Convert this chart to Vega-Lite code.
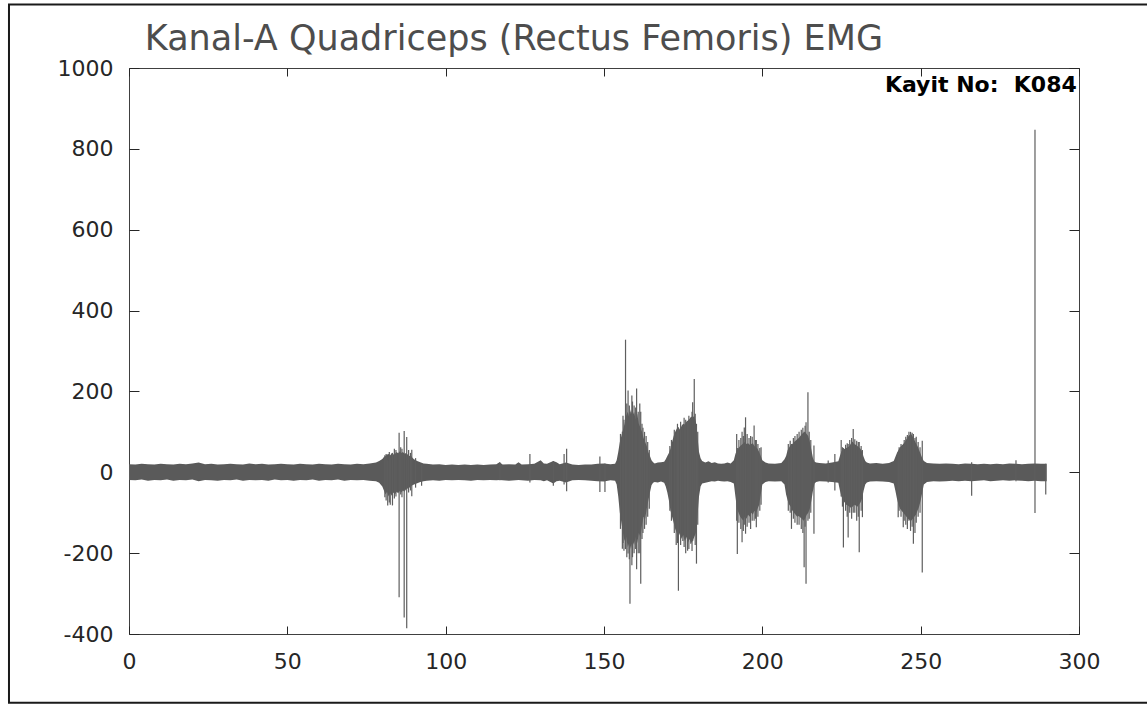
{
  "$schema": "https://vega.github.io/schema/vega-lite/v6.json",
  "autosize": "none",
  "width": 950,
  "height": 566,
  "padding": {"left": 129, "top": 68, "right": 68, "bottom": 70},
  "background": "white",
  "config": {
    "view": {"stroke": "#404040", "strokeWidth": 1},
    "axis": {
      "grid": false,
      "domain": false,
      "title": null,
      "labelFont": "DejaVu Sans",
      "labelFontSize": 22,
      "labelColor": "#262626",
      "tickColor": "#262626",
      "tickWidth": 1,
      "labelFlush": false,
      "labelOverlap": false
    }
  },
  "datasets": {
    "env": [
      {"t": 0, "lo": -19, "hi": 20}, {"t": 2, "lo": -20, "hi": 19}, {"t": 4, "lo": -18, "hi": 21}, {"t": 6, "lo": -21, "hi": 20},
      {"t": 8, "lo": -19, "hi": 19}, {"t": 10, "lo": -20, "hi": 21}, {"t": 12, "lo": -18, "hi": 20}, {"t": 14, "lo": -21, "hi": 19},
      {"t": 16, "lo": -19, "hi": 21}, {"t": 18, "lo": -20, "hi": 20}, {"t": 20, "lo": -18, "hi": 22}, {"t": 22, "lo": -22, "hi": 24},
      {"t": 24, "lo": -19, "hi": 20}, {"t": 26, "lo": -20, "hi": 21}, {"t": 28, "lo": -21, "hi": 19}, {"t": 30, "lo": -19, "hi": 20},
      {"t": 32, "lo": -20, "hi": 21}, {"t": 34, "lo": -18, "hi": 20}, {"t": 36, "lo": -21, "hi": 19}, {"t": 38, "lo": -19, "hi": 22},
      {"t": 40, "lo": -20, "hi": 20}, {"t": 42, "lo": -19, "hi": 21}, {"t": 44, "lo": -21, "hi": 19}, {"t": 46, "lo": -18, "hi": 20},
      {"t": 48, "lo": -20, "hi": 21}, {"t": 50, "lo": -19, "hi": 20}, {"t": 52, "lo": -21, "hi": 19}, {"t": 54, "lo": -19, "hi": 21},
      {"t": 56, "lo": -20, "hi": 20}, {"t": 58, "lo": -18, "hi": 19}, {"t": 60, "lo": -21, "hi": 21}, {"t": 62, "lo": -19, "hi": 20},
      {"t": 64, "lo": -20, "hi": 19}, {"t": 66, "lo": -18, "hi": 21}, {"t": 68, "lo": -21, "hi": 20}, {"t": 70, "lo": -19, "hi": 19},
      {"t": 72, "lo": -20, "hi": 21}, {"t": 74, "lo": -19, "hi": 20}, {"t": 76, "lo": -21, "hi": 22}, {"t": 78, "lo": -22, "hi": 24},
      {"t": 79, "lo": -26, "hi": 28}, {"t": 80, "lo": -35, "hi": 33}, {"t": 80.5, "lo": -45, "hi": 38}, {"t": 81, "lo": -55, "hi": 40},
      {"t": 81.5, "lo": -48, "hi": 44}, {"t": 82, "lo": -60, "hi": 45}, {"t": 82.5, "lo": -52, "hi": 42}, {"t": 83, "lo": -58, "hi": 48},
      {"t": 83.5, "lo": -50, "hi": 44}, {"t": 84, "lo": -55, "hi": 46}, {"t": 84.5, "lo": -48, "hi": 50}, {"t": 85, "lo": -52, "hi": 47},
      {"t": 85.5, "lo": -46, "hi": 52}, {"t": 86, "lo": -50, "hi": 48}, {"t": 86.5, "lo": -45, "hi": 50}, {"t": 87, "lo": -48, "hi": 46},
      {"t": 87.5, "lo": -42, "hi": 48}, {"t": 88, "lo": -40, "hi": 44}, {"t": 88.5, "lo": -38, "hi": 40}, {"t": 89, "lo": -35, "hi": 42},
      {"t": 89.5, "lo": -32, "hi": 36}, {"t": 90, "lo": -30, "hi": 32}, {"t": 91, "lo": -27, "hi": 28}, {"t": 92, "lo": -24, "hi": 25},
      {"t": 93, "lo": -22, "hi": 22}, {"t": 94, "lo": -21, "hi": 21}, {"t": 96, "lo": -20, "hi": 19}, {"t": 98, "lo": -21, "hi": 20},
      {"t": 100, "lo": -19, "hi": 18}, {"t": 102, "lo": -20, "hi": 19}, {"t": 104, "lo": -19, "hi": 18}, {"t": 106, "lo": -20, "hi": 19},
      {"t": 108, "lo": -21, "hi": 18}, {"t": 110, "lo": -19, "hi": 19}, {"t": 112, "lo": -20, "hi": 18}, {"t": 114, "lo": -19, "hi": 19},
      {"t": 116, "lo": -20, "hi": 20}, {"t": 117, "lo": -19, "hi": 25}, {"t": 118, "lo": -20, "hi": 19}, {"t": 120, "lo": -21, "hi": 20},
      {"t": 122, "lo": -20, "hi": 19}, {"t": 123, "lo": -19, "hi": 25}, {"t": 124, "lo": -20, "hi": 19}, {"t": 126, "lo": -21, "hi": 20},
      {"t": 128, "lo": -19, "hi": 21}, {"t": 130, "lo": -20, "hi": 30}, {"t": 131, "lo": -22, "hi": 22}, {"t": 132, "lo": -20, "hi": 21},
      {"t": 134, "lo": -28, "hi": 28}, {"t": 135, "lo": -22, "hi": 25}, {"t": 136, "lo": -21, "hi": 20}, {"t": 138, "lo": -25, "hi": 24},
      {"t": 140, "lo": -20, "hi": 19}, {"t": 142, "lo": -19, "hi": 18}, {"t": 144, "lo": -20, "hi": 19}, {"t": 146, "lo": -21, "hi": 19},
      {"t": 148, "lo": -22, "hi": 21}, {"t": 150, "lo": -23, "hi": 22}, {"t": 152, "lo": -20, "hi": 20}, {"t": 153.5, "lo": -21, "hi": 21},
      {"t": 154, "lo": -30, "hi": 30}, {"t": 154.5, "lo": -60, "hi": 50}, {"t": 155, "lo": -100, "hi": 75}, {"t": 155.5, "lo": -125, "hi": 90},
      {"t": 156, "lo": -150, "hi": 105}, {"t": 156.5, "lo": -170, "hi": 120}, {"t": 157, "lo": -160, "hi": 140}, {"t": 157.5, "lo": -185, "hi": 150},
      {"t": 158, "lo": -175, "hi": 135}, {"t": 158.5, "lo": -190, "hi": 155}, {"t": 159, "lo": -170, "hi": 140}, {"t": 159.5, "lo": -180, "hi": 150},
      {"t": 160, "lo": -160, "hi": 130}, {"t": 160.5, "lo": -175, "hi": 145}, {"t": 161, "lo": -150, "hi": 120}, {"t": 161.5, "lo": -160, "hi": 110},
      {"t": 162, "lo": -130, "hi": 100}, {"t": 162.5, "lo": -110, "hi": 85}, {"t": 163, "lo": -115, "hi": 75}, {"t": 163.5, "lo": -90, "hi": 65},
      {"t": 164, "lo": -70, "hi": 50}, {"t": 164.5, "lo": -50, "hi": 40}, {"t": 165, "lo": -32, "hi": 30}, {"t": 165.5, "lo": -26, "hi": 25},
      {"t": 166, "lo": -24, "hi": 22}, {"t": 167, "lo": -25, "hi": 24}, {"t": 168, "lo": -23, "hi": 25}, {"t": 169, "lo": -26, "hi": 26},
      {"t": 169.5, "lo": -35, "hi": 32}, {"t": 170, "lo": -50, "hi": 40}, {"t": 170.5, "lo": -70, "hi": 48}, {"t": 171, "lo": -95, "hi": 58},
      {"t": 171.5, "lo": -110, "hi": 75}, {"t": 172, "lo": -125, "hi": 90}, {"t": 172.5, "lo": -140, "hi": 100}, {"t": 173, "lo": -150, "hi": 108},
      {"t": 173.5, "lo": -160, "hi": 112}, {"t": 174, "lo": -150, "hi": 105}, {"t": 174.5, "lo": -165, "hi": 115}, {"t": 175, "lo": -155, "hi": 120},
      {"t": 175.5, "lo": -170, "hi": 118}, {"t": 176, "lo": -160, "hi": 125}, {"t": 176.5, "lo": -175, "hi": 128}, {"t": 177, "lo": -165, "hi": 132},
      {"t": 177.5, "lo": -175, "hi": 138}, {"t": 178, "lo": -170, "hi": 135}, {"t": 178.5, "lo": -160, "hi": 140}, {"t": 179, "lo": -150, "hi": 125},
      {"t": 179.5, "lo": -110, "hi": 90}, {"t": 180, "lo": -60, "hi": 50}, {"t": 180.5, "lo": -35, "hi": 35}, {"t": 181, "lo": -28, "hi": 28},
      {"t": 182, "lo": -26, "hi": 24}, {"t": 183, "lo": -24, "hi": 27}, {"t": 184, "lo": -22, "hi": 23}, {"t": 185, "lo": -23, "hi": 25},
      {"t": 186, "lo": -21, "hi": 22}, {"t": 187, "lo": -22, "hi": 21}, {"t": 188, "lo": -23, "hi": 22}, {"t": 189, "lo": -22, "hi": 24},
      {"t": 190, "lo": -24, "hi": 22}, {"t": 191, "lo": -28, "hi": 30}, {"t": 191.5, "lo": -60, "hi": 45}, {"t": 192, "lo": -90, "hi": 55},
      {"t": 192.5, "lo": -100, "hi": 60}, {"t": 193, "lo": -110, "hi": 65}, {"t": 193.5, "lo": -115, "hi": 68}, {"t": 194, "lo": -120, "hi": 72},
      {"t": 194.5, "lo": -110, "hi": 75}, {"t": 195, "lo": -115, "hi": 70}, {"t": 195.5, "lo": -105, "hi": 72}, {"t": 196, "lo": -110, "hi": 68},
      {"t": 196.5, "lo": -100, "hi": 70}, {"t": 197, "lo": -105, "hi": 72}, {"t": 197.5, "lo": -95, "hi": 65}, {"t": 198, "lo": -100, "hi": 62},
      {"t": 198.5, "lo": -90, "hi": 58}, {"t": 199, "lo": -80, "hi": 50}, {"t": 199.5, "lo": -55, "hi": 40}, {"t": 200, "lo": -30, "hi": 30},
      {"t": 201, "lo": -24, "hi": 24}, {"t": 202, "lo": -22, "hi": 22}, {"t": 204, "lo": -23, "hi": 21}, {"t": 206, "lo": -22, "hi": 23},
      {"t": 207, "lo": -30, "hi": 32}, {"t": 207.5, "lo": -55, "hi": 40}, {"t": 208, "lo": -70, "hi": 55}, {"t": 208.5, "lo": -80, "hi": 62},
      {"t": 209, "lo": -85, "hi": 68}, {"t": 209.5, "lo": -95, "hi": 70}, {"t": 210, "lo": -100, "hi": 75}, {"t": 210.5, "lo": -105, "hi": 78},
      {"t": 211, "lo": -110, "hi": 82}, {"t": 211.5, "lo": -108, "hi": 85}, {"t": 212, "lo": -112, "hi": 90}, {"t": 212.5, "lo": -115, "hi": 95},
      {"t": 213, "lo": -120, "hi": 98}, {"t": 213.5, "lo": -115, "hi": 100}, {"t": 214, "lo": -105, "hi": 95}, {"t": 214.5, "lo": -100, "hi": 90},
      {"t": 215, "lo": -90, "hi": 75}, {"t": 215.5, "lo": -70, "hi": 55}, {"t": 216, "lo": -45, "hi": 35}, {"t": 216.5, "lo": -28, "hi": 26},
      {"t": 217, "lo": -24, "hi": 24}, {"t": 218, "lo": -22, "hi": 23}, {"t": 220, "lo": -23, "hi": 22}, {"t": 222, "lo": -24, "hi": 24},
      {"t": 224, "lo": -26, "hi": 27}, {"t": 224.5, "lo": -45, "hi": 40}, {"t": 225, "lo": -60, "hi": 52}, {"t": 225.5, "lo": -70, "hi": 56},
      {"t": 226, "lo": -75, "hi": 58}, {"t": 226.5, "lo": -80, "hi": 60}, {"t": 227, "lo": -82, "hi": 62}, {"t": 227.5, "lo": -85, "hi": 65},
      {"t": 228, "lo": -88, "hi": 72}, {"t": 228.5, "lo": -85, "hi": 76}, {"t": 229, "lo": -80, "hi": 70}, {"t": 229.5, "lo": -82, "hi": 68},
      {"t": 230, "lo": -85, "hi": 65}, {"t": 230.5, "lo": -80, "hi": 62}, {"t": 231, "lo": -75, "hi": 58}, {"t": 231.5, "lo": -65, "hi": 50},
      {"t": 232, "lo": -45, "hi": 38}, {"t": 232.5, "lo": -30, "hi": 28}, {"t": 233, "lo": -25, "hi": 24}, {"t": 234, "lo": -23, "hi": 22},
      {"t": 236, "lo": -22, "hi": 23}, {"t": 238, "lo": -23, "hi": 21}, {"t": 240, "lo": -24, "hi": 23}, {"t": 241.5, "lo": -28, "hi": 28},
      {"t": 242, "lo": -45, "hi": 38}, {"t": 242.5, "lo": -65, "hi": 48}, {"t": 243, "lo": -80, "hi": 55}, {"t": 243.5, "lo": -90, "hi": 62},
      {"t": 244, "lo": -95, "hi": 66}, {"t": 244.5, "lo": -100, "hi": 70}, {"t": 245, "lo": -105, "hi": 75}, {"t": 245.5, "lo": -110, "hi": 82},
      {"t": 246, "lo": -115, "hi": 88}, {"t": 246.5, "lo": -118, "hi": 92}, {"t": 247, "lo": -120, "hi": 95}, {"t": 247.5, "lo": -115, "hi": 88},
      {"t": 248, "lo": -110, "hi": 80}, {"t": 248.5, "lo": -105, "hi": 72}, {"t": 249, "lo": -95, "hi": 65}, {"t": 249.5, "lo": -85, "hi": 55},
      {"t": 250, "lo": -70, "hi": 45}, {"t": 250.5, "lo": -50, "hi": 35}, {"t": 251, "lo": -30, "hi": 28}, {"t": 252, "lo": -24, "hi": 23},
      {"t": 254, "lo": -22, "hi": 22}, {"t": 256, "lo": -23, "hi": 21}, {"t": 258, "lo": -22, "hi": 22}, {"t": 260, "lo": -21, "hi": 21},
      {"t": 262, "lo": -22, "hi": 20}, {"t": 264, "lo": -21, "hi": 22}, {"t": 266, "lo": -22, "hi": 21}, {"t": 268, "lo": -21, "hi": 20},
      {"t": 270, "lo": -20, "hi": 21}, {"t": 272, "lo": -22, "hi": 20}, {"t": 274, "lo": -21, "hi": 21}, {"t": 276, "lo": -20, "hi": 20},
      {"t": 278, "lo": -21, "hi": 22}, {"t": 280, "lo": -20, "hi": 21}, {"t": 282, "lo": -21, "hi": 20}, {"t": 284, "lo": -22, "hi": 21},
      {"t": 286, "lo": -21, "hi": 22}, {"t": 288, "lo": -22, "hi": 21}, {"t": 289.8, "lo": -22, "hi": 21}
    ],
    "spikes": [
      {"t": 80.8, "lo": -62, "hi": 42}, {"t": 81.2, "lo": -70, "hi": 45}, {"t": 81.7, "lo": -82, "hi": 30}, {"t": 82.2, "lo": -75, "hi": 50},
      {"t": 82.5, "lo": -80, "hi": 35}, {"t": 83.2, "lo": -82, "hi": 48}, {"t": 83.8, "lo": -65, "hi": 58}, {"t": 84.3, "lo": -60, "hi": 55},
      {"t": 85.3, "lo": -309, "hi": 98}, {"t": 85.8, "lo": -55, "hi": 62}, {"t": 86.2, "lo": -62, "hi": 58},
      {"t": 86.9, "lo": -359, "hi": 102}, {"t": 87.7, "lo": -386, "hi": 87}, {"t": 88.3, "lo": -50, "hi": 55}, {"t": 88.9, "lo": -45, "hi": 48},
      {"t": 89.3, "lo": -59, "hi": 56}, {"t": 90.5, "lo": -38, "hi": 35}, {"t": 92.4, "lo": -33, "hi": 20},
      {"t": 117.1, "lo": -20, "hi": 25}, {"t": 126.6, "lo": -25, "hi": 45}, {"t": 134, "lo": -33, "hi": 28},
      {"t": 137.4, "lo": -30, "hi": 45}, {"t": 138.2, "lo": -47, "hi": 58}, {"t": 148.7, "lo": -49, "hi": 39}, {"t": 150.3, "lo": -49, "hi": 22},
      {"t": 155.2, "lo": -140, "hi": 95}, {"t": 155.8, "lo": -189, "hi": 100}, {"t": 156.0, "lo": -175, "hi": 140}, {"t": 156.3, "lo": -194, "hi": 130},
      {"t": 156.8, "lo": -190, "hi": 328}, {"t": 157.2, "lo": -210, "hi": 170}, {"t": 157.6, "lo": -201, "hi": 202}, {"t": 158.0, "lo": -215, "hi": 165},
      {"t": 158.2, "lo": -325, "hi": 150}, {"t": 158.8, "lo": -230, "hi": 190}, {"t": 159.0, "lo": -210, "hi": 175}, {"t": 159.5, "lo": -200, "hi": 165},
      {"t": 160.0, "lo": -190, "hi": 160}, {"t": 160.3, "lo": -240, "hi": 207}, {"t": 160.8, "lo": -200, "hi": 150}, {"t": 161.3, "lo": -200, "hi": 170},
      {"t": 161.6, "lo": -276, "hi": 150}, {"t": 162.0, "lo": -165, "hi": 120}, {"t": 162.3, "lo": -150, "hi": 110}, {"t": 162.8, "lo": -140, "hi": 100},
      {"t": 163.3, "lo": -130, "hi": 90}, {"t": 163.8, "lo": -110, "hi": 75}, {"t": 164.3, "lo": -90, "hi": 55},
      {"t": 170.8, "lo": -95, "hi": 65}, {"t": 171.3, "lo": -120, "hi": 80}, {"t": 172.2, "lo": -150, "hi": 105}, {"t": 172.8, "lo": -180, "hi": 95},
      {"t": 173.2, "lo": -175, "hi": 120}, {"t": 173.5, "lo": -293, "hi": 110}, {"t": 174.2, "lo": -180, "hi": 125}, {"t": 174.9, "lo": -170, "hi": 110},
      {"t": 175.3, "lo": -185, "hi": 135}, {"t": 175.8, "lo": -200, "hi": 130}, {"t": 176.4, "lo": -194, "hi": 125}, {"t": 176.8, "lo": -190, "hi": 140},
      {"t": 177.4, "lo": -177, "hi": 133}, {"t": 177.8, "lo": -195, "hi": 150}, {"t": 178, "lo": -170, "hi": 173}, {"t": 178.5, "lo": -150, "hi": 231},
      {"t": 178.8, "lo": -180, "hi": 145}, {"t": 179.2, "lo": -226, "hi": 120}, {"t": 179.6, "lo": -130, "hi": 100},
      {"t": 191.9, "lo": -120, "hi": 95}, {"t": 192.1, "lo": -202, "hi": 60}, {"t": 192.6, "lo": -125, "hi": 80}, {"t": 193.2, "lo": -140, "hi": 85},
      {"t": 193.6, "lo": -173, "hi": 100}, {"t": 194.0, "lo": -145, "hi": 90}, {"t": 194.3, "lo": -130, "hi": 111}, {"t": 194.7, "lo": -152, "hi": 136},
      {"t": 195.2, "lo": -135, "hi": 95}, {"t": 195.8, "lo": -125, "hi": 85}, {"t": 196.3, "lo": -140, "hi": 90}, {"t": 196.8, "lo": -120, "hi": 88},
      {"t": 197.4, "lo": -120, "hi": 116}, {"t": 197.8, "lo": -115, "hi": 80}, {"t": 198.1, "lo": -136, "hi": 80}, {"t": 198.6, "lo": -110, "hi": 70},
      {"t": 199.2, "lo": -95, "hi": 60}, {"t": 199.6, "lo": -80, "hi": 62},
      {"t": 208.2, "lo": -95, "hi": 70}, {"t": 208.8, "lo": -100, "hi": 78}, {"t": 209.2, "lo": -140, "hi": 70}, {"t": 209.8, "lo": -115, "hi": 85},
      {"t": 210.3, "lo": -125, "hi": 90}, {"t": 211, "lo": -130, "hi": 95}, {"t": 211.6, "lo": -130, "hi": 100}, {"t": 212.3, "lo": -140, "hi": 105},
      {"t": 212.8, "lo": -150, "hi": 110}, {"t": 213.2, "lo": -235, "hi": 100}, {"t": 213.5, "lo": -135, "hi": 115}, {"t": 213.8, "lo": -276, "hi": 124},
      {"t": 214.4, "lo": -120, "hi": 198}, {"t": 214.8, "lo": -115, "hi": 100}, {"t": 215.3, "lo": -100, "hi": 80}, {"t": 216.3, "lo": -152, "hi": 66},
      {"t": 220.8, "lo": -25, "hi": 29}, {"t": 222.9, "lo": -45, "hi": 45},
      {"t": 224.9, "lo": -60, "hi": 80}, {"t": 225.3, "lo": -85, "hi": 62}, {"t": 225.6, "lo": -186, "hi": 60}, {"t": 226.3, "lo": -95, "hi": 68},
      {"t": 226.8, "lo": -110, "hi": 72}, {"t": 227.1, "lo": -161, "hi": 70}, {"t": 227.6, "lo": -100, "hi": 80}, {"t": 228.2, "lo": -115, "hi": 85},
      {"t": 228.7, "lo": -100, "hi": 107}, {"t": 229.2, "lo": -100, "hi": 82}, {"t": 229.8, "lo": -120, "hi": 78}, {"t": 230.3, "lo": -110, "hi": 75},
      {"t": 230.6, "lo": -198, "hi": 75}, {"t": 231.2, "lo": -95, "hi": 65}, {"t": 231.6, "lo": -111, "hi": 55},
      {"t": 242.9, "lo": -111, "hi": 50}, {"t": 243.2, "lo": -95, "hi": 62}, {"t": 243.8, "lo": -110, "hi": 70}, {"t": 244.5, "lo": -136, "hi": 65},
      {"t": 244.8, "lo": -120, "hi": 80}, {"t": 245.3, "lo": -130, "hi": 88}, {"t": 245.8, "lo": -140, "hi": 92}, {"t": 246.3, "lo": -120, "hi": 100},
      {"t": 246.8, "lo": -145, "hi": 100}, {"t": 247.3, "lo": -135, "hi": 98}, {"t": 247.7, "lo": -177, "hi": 95}, {"t": 248.2, "lo": -150, "hi": 85},
      {"t": 248.6, "lo": -125, "hi": 88}, {"t": 249.2, "lo": -110, "hi": 75}, {"t": 249.8, "lo": -100, "hi": 62}, {"t": 250.5, "lo": -248, "hi": 78},
      {"t": 266.1, "lo": -58, "hi": 25}, {"t": 280.1, "lo": -22, "hi": 30}, {"t": 286.1, "lo": -101, "hi": 847},
      {"t": 289.5, "lo": -55, "hi": 21}
    ]
  },
  "layer": [
    {
      "data": {"values": [{}]},
      "mark": {"type": "rect", "fill": null, "stroke": "#1a1a1a", "strokeWidth": 2, "clip": false},
      "encoding": {
        "x": {"datum": -37.9, "type": "quantitative", "scale": {"domain": [0, 300], "nice": false, "zero": false}, "axis": null},
        "x2": {"datum": 340},
        "y": {"datum": -570, "type": "quantitative", "scale": {"domain": [-400, 1000], "nice": false, "zero": false}, "axis": null},
        "y2": {"datum": 1157}
      }
    },
    {
      "data": {"name": "env"},
      "mark": {"type": "area", "color": "#5a5a5a", "opacity": 1, "interpolate": "linear"},
      "encoding": {
        "x": {"field": "t", "type": "quantitative", "scale": {"domain": [0, 300], "nice": false, "zero": false},
              "axis": {"orient": "bottom", "values": [0, 50, 100, 150, 200, 250, 300], "tickSize": -8, "labelPadding": 25,
                       "labelExpr": "datum.value < 0 ? '-' + abs(datum.value) : '' + datum.value"}},
        "y": {"field": "lo", "type": "quantitative", "scale": {"domain": [-400, 1000], "nice": false, "zero": false},
              "axis": {"orient": "left", "values": [-400, -200, 0, 200, 400, 600, 800, 1000], "tickSize": -10, "labelPadding": 26,
                       "labelExpr": "datum.value < 0 ? '-' + abs(datum.value) : '' + datum.value"}},
        "y2": {"field": "hi"}
      }
    },
    {
      "data": {"name": "spikes"},
      "mark": {"type": "rule", "color": "#5e5e5e", "strokeWidth": 1.2},
      "encoding": {
        "x": {"field": "t", "type": "quantitative", "scale": {"domain": [0, 300], "nice": false, "zero": false},
              "axis": {"orient": "top", "values": [0, 50, 100, 150, 200, 250, 300], "tickSize": -8, "labels": false}},
        "y": {"field": "lo", "type": "quantitative", "scale": {"domain": [-400, 1000], "nice": false, "zero": false},
              "axis": {"orient": "right", "values": [-400, -200, 0, 200, 400, 600, 800, 1000], "tickSize": -10, "labels": false}},
        "y2": {"field": "hi"}
      }
    },
    {
      "data": {"values": [{}]},
      "mark": {"type": "text", "text": "Kanal-A Quadriceps (Rectus Femoris) EMG", "align": "left", "baseline": "alphabetic",
               "font": "DejaVu Sans", "fontSize": 35, "fontWeight": "normal", "color": "#4d4d4d", "clip": false},
      "encoding": {
        "x": {"datum": 5.0, "type": "quantitative", "scale": {"domain": [0, 300], "nice": false, "zero": false}, "axis": null},
        "y": {"datum": 1044, "type": "quantitative", "scale": {"domain": [-400, 1000], "nice": false, "zero": false}, "axis": null}
      }
    },
    {
      "data": {"values": [{}]},
      "mark": {"type": "text", "text": "Kayit No:\u00a0\u00a0K084", "align": "right", "baseline": "alphabetic",
               "font": "DejaVu Sans", "fontSize": 22, "fontWeight": "bold", "color": "#000000"},
      "encoding": {
        "x": {"datum": 299.3, "type": "quantitative", "scale": {"domain": [0, 300], "nice": false, "zero": false}, "axis": null},
        "y": {"datum": 940, "type": "quantitative", "scale": {"domain": [-400, 1000], "nice": false, "zero": false}, "axis": null}
      }
    }
  ],
  "resolve": {"axis": {"x": "independent", "y": "independent"}}
}
